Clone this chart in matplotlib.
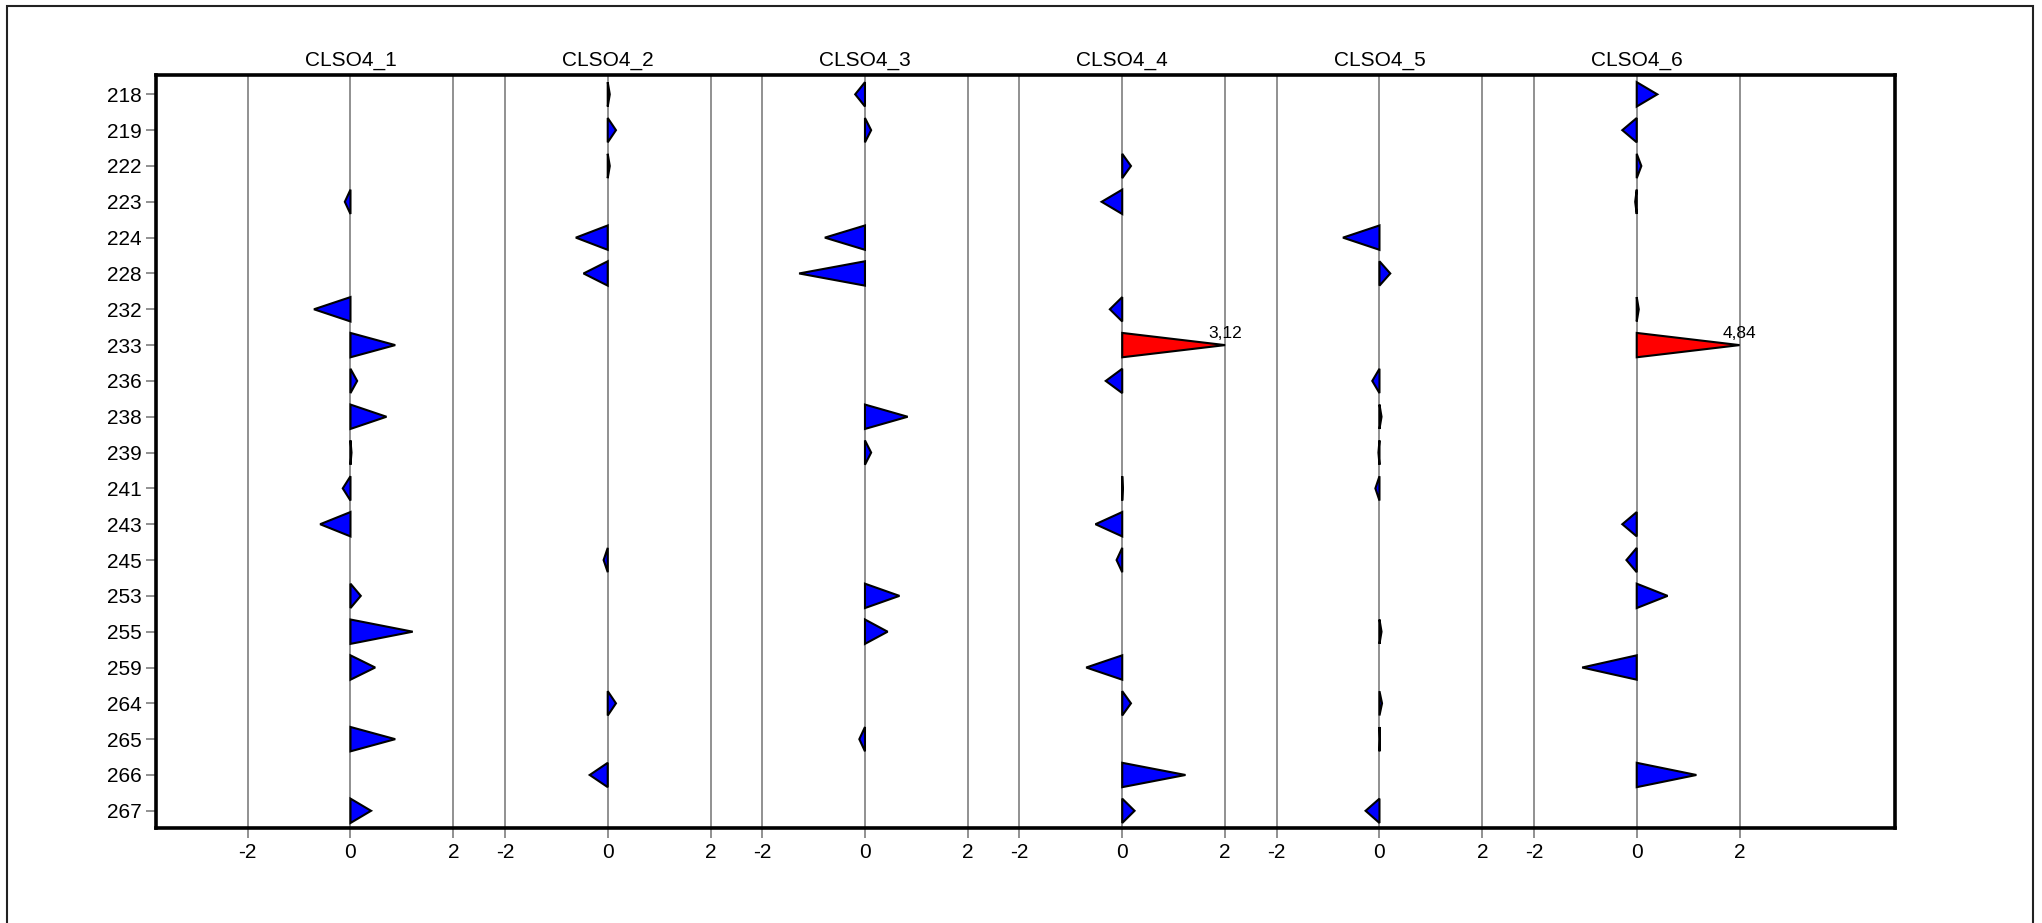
import numpy as np
import matplotlib
matplotlib.use("Agg")
import matplotlib.pyplot as plt
from matplotlib.patches import Polygon, Rectangle

plt.rcParams['font.family'] = ['Liberation Sans', 'DejaVu Sans']

rows = ["218", "219", "222", "223", "224", "228", "232", "233", "236", "238", "239",
        "241", "243", "245", "253", "255", "259", "264", "265", "266", "267"]
panels = ["CLSO4_1", "CLSO4_2", "CLSO4_3", "CLSO4_4", "CLSO4_5", "CLSO4_6"]
nan = np.nan
clso4_1 = [nan, nan, nan, -0.11, nan, nan, -0.71, 0.87, 0.13, 0.70, 0.02,
           -0.15, -0.59, nan, 0.20, 1.21, 0.48, nan, 0.87, nan, 0.40]
clso4_2 = [0.04, 0.16, 0.04, nan, -0.62, -0.47, nan, nan, nan, nan, nan,
           nan, nan, -0.08, nan, nan, nan, 0.16, nan, -0.35, nan]
clso4_3 = [-0.19, 0.12, nan, nan, -0.78, -1.28, nan, nan, nan, 0.83, 0.12,
           nan, nan, nan, 0.67, 0.44, nan, nan, -0.11, nan, nan]
clso4_4 = [nan, nan, 0.17, -0.40, nan, nan, -0.24, 3.12, -0.32, nan, nan,
           0.01, -0.52, -0.11, nan, nan, -0.70, 0.17, nan, 1.23, 0.24]
clso4_5 = [nan, nan, nan, nan, -0.71, 0.21, nan, nan, -0.14, 0.04, -0.02,
           -0.08, nan, nan, nan, 0.04, nan, 0.05, 0.01, nan, -0.27]
clso4_6 = [0.40, -0.28, 0.09, -0.03, nan, nan, 0.04, 4.84, nan, nan, nan,
           nan, -0.28, -0.20, 0.60, nan, -1.06, nan, nan, 1.16, nan]
series = [clso4_1, clso4_2, clso4_3, clso4_4, clso4_5, clso4_6]
tick_vals = [-2, 0, 2]
tick_labels = ["-2", "0", "2"]
cap = 2.0

W, H = 2042, 923
fig = plt.figure(figsize=(W / 100, H / 100), dpi=100)
fig.patch.set_facecolor('white')

# outer frame
fig.patches.append(Rectangle((7 / W, -0.05), (2033 - 7) / W, 1 - 6 / H + 0.05,
                             transform=fig.transFigure, fill=False,
                             edgecolor='#222222', linewidth=1.5))

ax = fig.add_axes([156 / W, 1 - 828 / H, (1895 - 156) / W, (828 - 75) / H])
spacing = 5.0
half = 0.34

xt, xl = [], []
for k, (name, vals) in enumerate(zip(panels, series)):
    off = k * spacing
    for t, lab in zip(tick_vals, tick_labels):
        ax.axvline(off + t, color='#888888', linewidth=1.3, zorder=1)
        xt.append(off + t)
        xl.append(lab)
    for i, v in enumerate(vals):
        if np.isnan(v):
            continue
        vc = min(v, cap)
        col = '#FF0000' if v > cap else '#0000FF'
        tri = Polygon([(off, i - half), (off, i + half), (off + vc, i)],
                      closed=True, facecolor=col, edgecolor='black',
                      linewidth=1.5, zorder=3, joinstyle='miter')
        ax.add_patch(tri)
        if v > cap:
            ax.annotate(f"{v:.2f}".replace('.', ','), xy=(off + vc, i),
                        xytext=(0, 5), textcoords='offset points',
                        ha='center', va='baseline', fontsize=12.5, zorder=4)
    ax.annotate(name, xy=(off, 1.0), xycoords=('data', 'axes fraction'),
                xytext=(0, 6.5), textcoords='offset points',
                ha='center', va='baseline', fontsize=15)

ax.set_xlim(-3.78, 30.02)
ax.set_ylim(20.48, -0.54)
ax.set_xticks(xt)
ax.set_xticklabels(xl)
ax.set_yticks(range(len(rows)))
ax.set_yticklabels(rows)
ax.tick_params(axis='both', direction='out', length=7, width=1.3,
               color='#888888', labelsize=15, labelcolor='black')
ax.tick_params(axis='x', pad=4)
ax.tick_params(axis='y', pad=3.5)
for s in ax.spines.values():
    s.set_linewidth(2.6)
    s.set_color('black')
    s.set_zorder(5)

fig.savefig("out.png", dpi=100, facecolor='white')
